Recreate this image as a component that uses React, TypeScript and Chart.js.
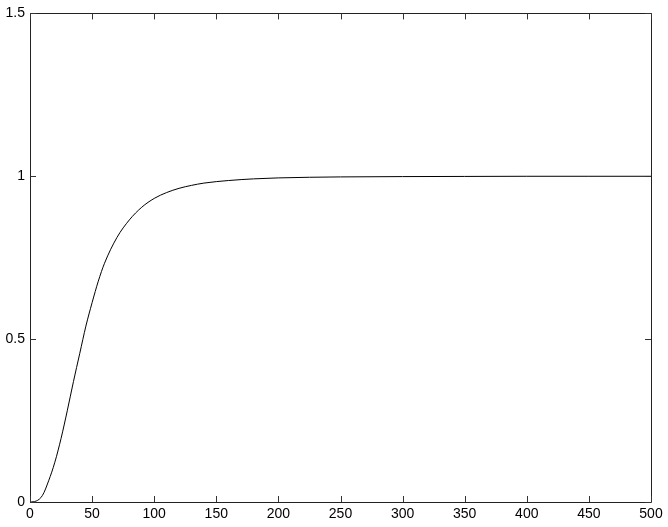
import React, { useEffect, useRef } from "react";
import { Chart, registerables } from "chart.js";

Chart.register(...registerables);

const timeValues = [0, 5, 10, 15, 20, 25, 30, 35, 40, 45, 50, 55, 60, 70, 80, 90, 100, 110, 120, 130, 140, 160, 180, 200, 250, 300, 350, 400, 450, 500];
const responseValues = [0, 0.003, 0.02, 0.065, 0.122, 0.195, 0.28, 0.37, 0.455, 0.54, 0.612, 0.678, 0.733, 0.812, 0.866, 0.905, 0.932, 0.95, 0.963, 0.972, 0.979, 0.987, 0.992, 0.995, 0.998, 0.999, 0.9995, 1, 1, 1];
const xTicks = [0, 50, 100, 150, 200, 250, 300, 350, 400, 450, 500];
const yTicks = [0, 0.5, 1, 1.5];

const FONT = "'Liberation Sans', Arial, Helvetica, sans-serif";

const frameTicks = {
  id: "frameTicks",
  afterDraw(chart: any) {
    const { ctx, chartArea } = chart;
    const { left, right, top, bottom } = chartArea;
    const xs = chart.scales.x;
    const ys = chart.scales.y;
    const len = 6;
    ctx.save();
    ctx.strokeStyle = "#222";
    ctx.lineWidth = 1;
    ctx.beginPath();
    ctx.rect(Math.round(left) + 0.5, Math.round(top) + 0.5, Math.round(right - left), Math.round(bottom - top));
    ctx.stroke();
    ctx.strokeStyle = "#333";
    ctx.lineWidth = 1;
    ctx.beginPath();
    xTicks.forEach((v) => {
      const px = Math.round(xs.getPixelForValue(v)) + 0.5;
      ctx.moveTo(px, bottom);
      ctx.lineTo(px, bottom - len);
      ctx.moveTo(px, top);
      ctx.lineTo(px, top + len);
    });
    yTicks.forEach((v) => {
      const py = Math.round(ys.getPixelForValue(v)) + 0.5;
      ctx.moveTo(left, py);
      ctx.lineTo(left + len, py);
      ctx.moveTo(right, py);
      ctx.lineTo(right - len, py);
    });
    ctx.stroke();
    ctx.restore();
  },
};

export default function App() {
  const ref = useRef<HTMLCanvasElement | null>(null);
  useEffect(() => {
    if (!ref.current) return;
    const chart = new Chart(ref.current, {
      type: "line",
      data: {
        datasets: [
          {
            data: timeValues.map((t, i) => ({ x: t, y: responseValues[i] })),
            borderColor: "#000",
            borderWidth: 1,
            pointRadius: 0,
            fill: false,
            cubicInterpolationMode: "monotone",
          },
        ],
      },
      options: {
        animation: false,
        responsive: false,
        events: [],
        layout: { padding: { left: 0, top: 13, right: 17, bottom: 0 } },
        plugins: { legend: { display: false }, tooltip: { enabled: false } },
        scales: {
          x: {
            type: "linear",
            min: 0,
            max: 500,
            afterFit: (s: any) => {
              s.height = 25;
            },
            afterBuildTicks: (s: any) => {
              s.ticks = xTicks.map((v) => ({ value: v }));
            },
            grid: { display: false, drawTicks: false },
            border: { display: false },
            ticks: {
              color: "#000",
              padding: 4,
              maxRotation: 0,
              font: { family: FONT, size: 14 },
              callback: (v: any) => String(v),
            },
          },
          y: {
            type: "linear",
            min: 0,
            max: 1.5,
            afterFit: (s: any) => {
              s.width = 30;
            },
            afterBuildTicks: (s: any) => {
              s.ticks = yTicks.map((v) => ({ value: v }));
            },
            grid: { display: false, drawTicks: false },
            border: { display: false },
            ticks: {
              color: "#000",
              padding: 5,
              font: { family: FONT, size: 14 },
              callback: (v: any) => String(v),
            },
          },
        },
      },
      plugins: [frameTicks],
    });
    return () => chart.destroy();
  }, []);
  return (
    <div style={{ position: "absolute", left: 0, top: 0, width: 668, height: 527, background: "#fff" }}>
      <canvas ref={ref} width={668} height={527} />
    </div>
  );
}
